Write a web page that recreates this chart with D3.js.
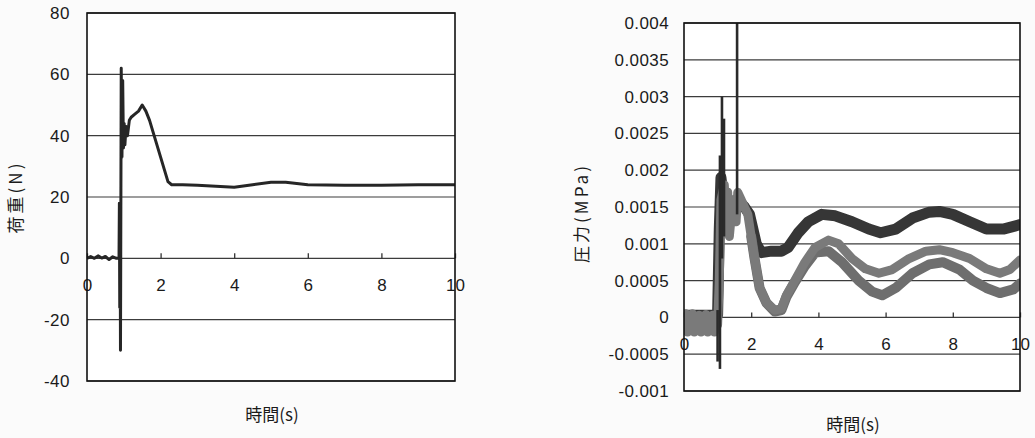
<!DOCTYPE html>
<html><head><meta charset="utf-8">
<script src="https://cdn.jsdelivr.net/npm/d3@7"></script>
<style>
html,body{margin:0;padding:0;background:#fbfbfb;}
svg{display:block;}
</style></head>
<body>
<svg id="c" width="1035" height="438"></svg>
<script>
// ---------- DATA ----------
const xTicks = [0, 2, 4, 6, 8, 10];
const loadTicks = [-40, -20, 0, 20, 40, 60, 80];
const pressTicks = [-0.001, -0.0005, 0, 0.0005, 0.001, 0.0015, 0.002, 0.0025, 0.003, 0.0035, 0.004];
const pressTickLabels = ["-0.001","-0.0005","0","0.0005","0.001","0.0015","0.002","0.0025","0.003","0.0035","0.004"];

// Left chart: load (N) vs time (s)
const loadSeries = [
  [0,0],[0.1,0.6],[0.2,0],[0.3,0.8],[0.4,0.1],[0.5,0.6],[0.6,-0.4],[0.7,0.5],[0.8,0],[0.87,0],
  [0.88,18],[0.89,-16],[0.9,17],[0.91,-30],[0.93,62],[0.95,33],[0.97,58],[0.99,36],[1.01,44],
  [1.03,37],[1.06,43],[1.1,40],[1.15,45],[1.2,46],[1.3,47],[1.4,48],[1.5,50],[1.6,48],[1.7,45],
  [1.8,41],[1.9,37],[2.0,33],[2.1,29],[2.2,25],[2.3,24],[2.6,24],[3.0,23.8],[3.5,23.5],[4.0,23.2],
  [4.5,24],[5.0,24.8],[5.4,24.8],[6.0,24],[7.0,23.8],[8.0,23.8],[9.0,24],[10,24]
];

// Right chart: pressure (MPa) vs time (s), three sensors
const pressDark = [
  [0,0.00003],[0.5,0.00003],[1.0,0.00003],[1.05,0.0012],[1.1,0.0019],[1.2,0.0015],[1.3,0.0016],
  [1.45,0.0015],[1.6,0.0016],[1.8,0.0015],[1.95,0.0014],[2.05,0.0012],[2.15,0.001],[2.3,0.00088],
  [2.6,0.0009],[2.9,0.0009],[3.1,0.00095],[3.4,0.00115],[3.7,0.0013],[4.1,0.0014],[4.5,0.00138],
  [5.0,0.0013],[5.5,0.0012],[5.85,0.00115],[6.3,0.0012],[6.8,0.00135],[7.3,0.00143],[7.6,0.00144],
  [8.0,0.0014],[8.5,0.0013],[9.0,0.0012],[9.5,0.0012],[10,0.00126]
];
const pressGrayA = [
  [0,-0.0001],[0.05,0.00005],[0.1,-0.0002],[0.15,0],[0.2,-0.00015],[0.25,0.00005],[0.3,-0.0002],
  [0.35,-0.00003],[0.4,-0.00018],[0.45,0.00003],[0.5,-0.0002],[0.55,0],[0.6,-0.00016],[0.65,0.00004],
  [0.7,-0.0002],[0.75,0],[0.8,-0.00017],[0.85,0.00003],[0.9,-0.0002],[0.95,0],[1.0,-0.0001],
  [1.05,0.0005],[1.1,0.0016],[1.2,0.0018],[1.25,0.0013],[1.3,0.0017],[1.35,0.0011],[1.45,0.0016],
  [1.55,0.0013],[1.6,0.0017],[1.7,0.0016],[1.8,0.0015],[1.9,0.0014],[2.0,0.0011],[2.1,0.0008],
  [2.25,0.0004],[2.45,0.0002],[2.7,0.0001],[2.9,0.00012],[3.05,0.0003],[3.3,0.0005],[3.6,0.00075],
  [3.9,0.00095],[4.3,0.00105],[4.6,0.001],[5.0,0.0008],[5.4,0.00066],[5.8,0.0006],[6.2,0.00065],
  [6.7,0.0008],[7.2,0.0009],[7.6,0.00092],[8.0,0.00088],[8.5,0.0008],[9.0,0.00066],[9.4,0.0006],
  [9.7,0.00065],[10,0.00078]
];
const pressGrayB = [
  [2.0,0.0011],[2.1,0.0008],[2.25,0.0004],[2.45,0.0002],[2.7,0.00008],[2.9,0.0001],[3.05,0.00028],
  [3.3,0.00048],[3.6,0.0007],[3.9,0.00088],[4.3,0.0009],[4.7,0.00075],[5.2,0.0005],[5.6,0.00035],
  [5.9,0.0003],[6.3,0.0004],[6.8,0.0006],[7.3,0.00072],[7.7,0.00075],[8.2,0.00065],[8.6,0.0005],
  [9.0,0.0004],[9.4,0.00033],[9.8,0.00038],[10,0.00046]
];
// short transient spikes: [time, low, high]
const pressSpikes = [
  [1.0,-0.0006,0.0001],[1.07,-0.0007,0.0022],[1.13,0.0008,0.003],[1.19,0.0011,0.0027],[1.58,0.0014,0.004]
];

// ---------- DRAW ----------
const svg = d3.select("#c");
const NUM = "'Liberation Sans', Arial, sans-serif";
const CJK = "'Noto Sans CJK JP', sans-serif";

function panel(o) {
  const x = d3.scaleLinear().domain([0, 10]).range([o.x0, o.x1]);
  const y = d3.scaleLinear().domain(o.yDomain).range([o.y1, o.y0]);
  const g = svg.append("g");
  g.append("rect").attr("x", o.x0).attr("y", o.y0).attr("width", o.x1 - o.x0).attr("height", o.y1 - o.y0)
    .attr("fill", "#ffffff");
  g.selectAll("line.grid").data(o.yTicks).join("line").attr("class", "grid")
    .attr("x1", o.x0).attr("x2", o.x1).attr("y1", d => y(d)).attr("y2", d => y(d))
    .attr("stroke", "#3c3c3c").attr("stroke-width", 1.2);
  const ya = d3.axisLeft(y).tickValues(o.yTicks).tickSize(0).tickPadding(o.x0 - o.yLabelX)
    .tickFormat((d, i) => o.yLabels[i]);
  const yg = g.append("g").attr("transform", `translate(${o.x0},0)`).call(ya);
  yg.select(".domain").remove();
  yg.selectAll("text").attr("font-family", NUM).attr("font-size", 17).attr("fill", "#1a1a1a")
    .attr("letter-spacing", o.ls);
  const xa = d3.axisBottom(x).tickValues(xTicks).tickSizeInner(-5).tickSizeOuter(0).tickPadding(21)
    .tickFormat(d3.format("d"));
  const xg = g.append("g").attr("transform", `translate(0,${y(0)})`).call(xa);
  xg.select(".domain").remove();
  xg.selectAll("line").attr("stroke", "#333").attr("stroke-width", 1.3);
  xg.selectAll("text").attr("font-family", NUM).attr("font-size", 17).attr("fill", "#1a1a1a");
  g.append("text").attr("x", o.xTitleX).attr("y", o.xTitleY).attr("text-anchor", "middle")
    .attr("font-family", CJK).attr("font-size", 17).attr("fill", "#1a1a1a").text("時間(s)");
  g.append("text").attr("transform", `translate(${o.yTitleX},${o.yTitleY}) rotate(-90)`)
    .attr("text-anchor", "middle").attr("dominant-baseline", "central")
    .attr("font-family", CJK).attr("font-size", 17).attr("letter-spacing", 3).attr("fill", "#1a1a1a")
    .text(o.yTitle);
  const clipId = "clip" + o.id;
  svg.append("clipPath").attr("id", clipId).append("rect")
    .attr("x", o.x0).attr("y", o.y0).attr("width", o.x1 - o.x0).attr("height", o.y1 - o.y0);
  const data = g.append("g").attr("clip-path", `url(#${clipId})`);
  return {x, y, g, data, border: () => g.append("rect").attr("x", o.x0).attr("y", o.y0)
    .attr("width", o.x1 - o.x0).attr("height", o.y1 - o.y0).attr("fill", "none")
    .attr("stroke", "#111").attr("stroke-width", 1.6)};
}

// Left panel
const L = panel({id: "L", x0: 87, x1: 455, y0: 13, y1: 381, yDomain: [-40, 80], yTicks: loadTicks,
  yLabels: loadTicks.map(String), yLabelX: 70, ls: 0.5, xTitleX: 272, xTitleY: 421,
  yTitleX: 14, yTitleY: 197, yTitle: "荷重(N)"});
const lineL = d3.line().x(d => L.x(d[0])).y(d => L.y(d[1]));
L.data.append("path").datum(loadSeries).attr("d", lineL).attr("fill", "none")
  .attr("stroke", "#262626").attr("stroke-width", 3).attr("stroke-linejoin", "round");
L.border();

// Right panel
const R = panel({id: "R", x0: 684, x1: 1020, y0: 23, y1: 391, yDomain: [-0.001, 0.004], yTicks: pressTicks,
  yLabels: pressTickLabels, yLabelX: 669, ls: 0.4, xTitleX: 853, xTitleY: 431,
  yTitleX: 580, yTitleY: 213, yTitle: "圧力(MPa)"});
const lineR = d3.line().x(d => R.x(d[0])).y(d => R.y(d[1]));
R.data.append("path").datum(pressDark).attr("d", lineR).attr("fill", "none")
  .attr("stroke", "#363636").attr("stroke-width", 11).attr("stroke-linejoin", "round").attr("stroke-linecap", "round");
R.data.append("path").datum(pressGrayB).attr("d", lineR).attr("fill", "none")
  .attr("stroke", "#6e6e6e").attr("stroke-width", 10).attr("stroke-linejoin", "round").attr("stroke-linecap", "round");
R.data.append("path").datum(pressGrayA).attr("d", lineR).attr("fill", "none")
  .attr("stroke", "#7a7a7a").attr("stroke-width", 9).attr("stroke-linejoin", "round").attr("stroke-linecap", "round");
R.data.selectAll("line.spike").data(pressSpikes).join("line").attr("class", "spike")
  .attr("x1", d => R.x(d[0])).attr("x2", d => R.x(d[0])).attr("y1", d => R.y(d[1])).attr("y2", d => R.y(d[2]))
  .attr("stroke", "#2a2a2a").attr("stroke-width", 2.6);
R.border();
</script>
</body></html>
